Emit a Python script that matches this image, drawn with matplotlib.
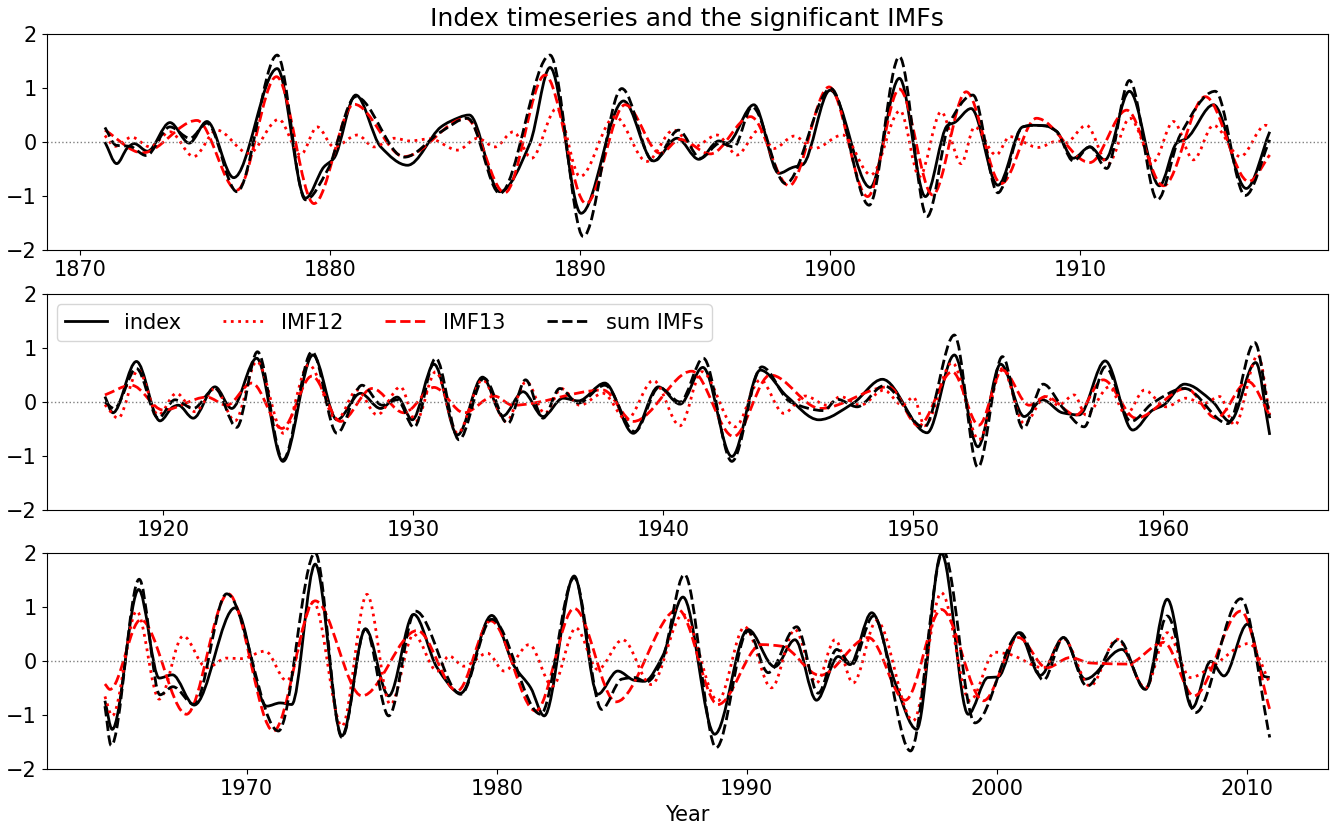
import numpy as np
import matplotlib
matplotlib.use("Agg")
import matplotlib.pyplot as plt
from matplotlib.path import Path
from matplotlib.patches import PathPatch
from matplotlib.lines import Line2D

# (year, value) at turning points / shoulders
index_pts = [
    (1871.0, 0.00), (1871.47, -0.40), (1871.9, -0.11), (1872.17, -0.03), (1872.7, -0.17),
    (1873.6, 0.36), (1874.37, -0.02), (1875.08, 0.38), (1876.15, -0.66), (1877.89, 1.36),
    (1879.02, -1.04), (1879.76, -0.46), (1880.16, -0.30), (1881.03, 0.87), (1882.03, -0.09),
    (1883.1, -0.43), (1884.44, 0.28), (1884.8, 0.38), (1885.57, 0.50), (1886.79, -0.92),
    (1888.0, -0.02), (1888.8, 1.38), (1890.04, -1.32), (1891.74, 0.76), (1892.94, -0.35),
    (1893.88, 0.07), (1894.75, -0.32), (1895.55, 0.02), (1895.88, -0.02), (1896.95, 0.69),
    (1897.95, -0.58), (1898.5, -0.47), (1898.9, -0.42), (1900.0, 0.96), (1901.6, -0.84),
    (1902.77, 1.18), (1903.81, -1.01), (1904.7, 0.31), (1904.97, 0.36), (1905.64, 0.62),
    (1906.71, -0.80), (1907.7, 0.28), (1908.1, 0.31), (1908.6, 0.30), (1909.05, 0.20),
    (1909.72, -0.30), (1910.39, -0.09), (1910.99, -0.33), (1911.97, 0.94), (1913.17, -0.81),
    (1913.86, -0.02), (1914.26, 0.07), (1915.33, 0.69), (1916.64, -0.86), (1917.58, 0.19),
    (1917.67, 0.10), (1917.99, -0.20), (1918.93, 0.75), (1919.87, -0.35), (1920.4, -0.09),
    (1920.6, -0.06), (1921.2, -0.30), (1922.07, 0.28), (1922.74, -0.12), (1923.74, 0.81),
    (1924.79, -1.10), (1925.99, 0.87), (1926.95, -0.33), (1927.89, 0.16), (1928.69, -0.12),
    (1929.36, 0.09), (1929.96, -0.33), (1930.83, 0.70), (1931.77, -0.61), (1932.77, 0.46),
    (1933.58, -0.26), (1934.39, 0.19), (1935.19, -0.27), (1935.99, 0.07), (1936.6, 0.02),
    (1937.66, 0.35), (1938.8, -0.58), (1939.8, 0.28), (1940.67, -0.04), (1941.58, 0.64),
    (1942.74, -1.01), (1943.88, 0.59), (1944.95, 0.10), (1946.22, -0.33), (1947.6, -0.02),
    (1948.76, 0.42), (1950.55, -0.57), (1951.64, 0.87), (1952.58, -0.83), (1953.49, 0.70),
    (1954.43, -0.27), (1955.16, 0.04), (1955.96, -0.20), (1956.63, -0.24), (1957.67, 0.76),
    (1958.77, -0.52), (1959.57, -0.15), (1960.0, -0.06), (1960.84, 0.33), (1961.98, 0.00),
    (1962.65, -0.36), (1963.69, 0.73), (1964.25, -0.61),
    (1964.33, -0.73), (1964.62, -1.26), (1965.68, 1.33), (1966.5, -0.31), (1967.03, -0.25),
    (1967.9, -0.81), (1969.53, 0.99), (1970.8, -0.83), (1971.34, -0.77), (1971.8, -0.80),
    (1972.74, 1.80), (1973.81, -1.38), (1974.75, 0.60), (1975.68, -0.64), (1976.68, 0.87),
    (1977.62, -0.12), (1978.56, -0.59), (1979.8, 0.85), (1980.7, -0.09), (1981.36, -0.49),
    (1981.9, -1.01), (1983.1, 1.58), (1984.04, -0.61), (1984.84, -0.18), (1985.5, -0.35),
    (1985.9, -0.37), (1986.64, 0.10), (1987.45, 1.19), (1988.72, -1.35), (1990.05, 0.59),
    (1991.12, -0.10), (1991.93, 0.40), (1992.79, -0.72), (1993.66, 0.09), (1994.13, -0.06),
    (1995.0, 0.90), (1995.94, -0.40), (1996.8, -1.26), (1997.79, 2.00), (1998.86, -0.98),
    (1999.65, -0.30), (2000.05, -0.29), (2000.87, 0.53), (2001.74, -0.26), (2002.67, 0.44),
    (2003.54, -0.33), (2005.01, 0.22), (2005.95, -0.52), (2006.82, 1.15), (2007.82, -0.86),
    (2008.56, 0.00), (2009.09, -0.27), (2010.03, 0.69), (2010.7, -0.28), (2010.92, -0.30),
]

imf12_pts = [
    (1871.0, 0.12), (1871.4, -0.08), (1872.07, 0.09), (1872.8, -0.09), (1873.6, 0.19),
    (1874.55, -0.27), (1875.48, 0.22), (1876.75, -0.21), (1877.95, 0.42), (1878.82, -0.24),
    (1879.49, 0.28), (1880.16, -0.09), (1881.1, 0.13), (1881.76, -0.09), (1882.57, 0.07),
    (1883.2, 0.02), (1884.0, 0.06), (1885.1, -0.15), (1885.9, 0.07), (1886.6, -0.09),
    (1887.33, 0.19), (1888.06, -0.30), (1889.06, 0.62), (1890.0, -0.64), (1891.4, 0.47),
    (1892.67, -0.36), (1893.74, 0.22), (1894.55, -0.09), (1895.48, 0.13), (1896.28, -0.24),
    (1897.15, 0.22), (1897.75, -0.12), (1898.56, 0.11), (1899.36, -0.12), (1900.5, 0.13),
    (1901.63, -0.61), (1902.8, 0.58), (1903.57, -0.64), (1904.44, 0.56), (1905.24, -0.40),
    (1905.78, 0.28), (1906.64, -0.24), (1907.18, 0.10), (1908.32, -0.10), (1909.1, 0.02),
    (1909.4, -0.02), (1910.25, 0.31), (1911.12, -0.40), (1911.99, 0.44), (1912.93, -0.36),
    (1913.73, 0.38), (1914.53, -0.33), (1915.33, 0.31), (1916.4, -0.27), (1917.41, 0.31),
    (1917.58, 0.28),
    (1917.67, -0.05), (1918.2, -0.30), (1919.0, 0.59), (1919.8, -0.24), (1920.53, 0.16),
    (1921.27, -0.18), (1922.07, 0.25), (1922.87, -0.35), (1923.74, 0.75), (1924.81, -0.58),
    (1925.82, 0.69), (1926.95, -0.33), (1927.75, 0.22), (1928.56, -0.24), (1929.49, 0.28),
    (1930.1, -0.36), (1930.9, 0.56), (1931.77, -0.58), (1932.77, 0.41), (1933.72, -0.36),
    (1934.52, 0.38), (1935.26, -0.21), (1935.92, 0.25), (1936.66, -0.06), (1937.59, 0.16),
    (1938.53, -0.33), (1939.6, 0.40), (1940.67, -0.44), (1941.54, 0.56), (1942.87, -0.46),
    (1943.88, 0.41), (1944.81, -0.21), (1945.68, 0.11), (1946.55, -0.06), (1947.08, 0.10),
    (1947.88, -0.06), (1948.82, 0.22), (1949.56, -0.06), (1950.0, 0.09), (1950.45, -0.44),
    (1951.55, 0.73), (1952.62, -0.70), (1953.56, 0.62), (1954.43, -0.40), (1955.29, 0.10),
    (1955.8, -0.06), (1956.43, 0.13), (1956.9, -0.24), (1957.83, 0.28), (1958.5, -0.24),
    (1959.24, 0.22), (1960.1, -0.09), (1960.9, 0.07), (1961.6, -0.03), (1962.25, 0.10),
    (1962.85, -0.43), (1963.78, 0.87), (1964.25, -0.24),
    (1964.33, -0.65), (1964.62, -1.01), (1965.6, 0.93), (1966.5, -0.70), (1967.46, 0.47),
    (1968.4, -0.12), (1969.2, 0.06), (1969.8, 0.05), (1970.74, 0.19), (1971.6, -0.36),
    (1972.67, 1.10), (1973.81, -1.20), (1974.81, 1.24), (1975.75, -0.80), (1976.68, 0.50),
    (1977.62, -0.18), (1978.09, 0.10), (1978.69, -0.09), (1979.63, 0.15), (1980.3, -0.18),
    (1981.3, 0.31), (1982.23, -0.46), (1983.17, 0.62), (1984.04, -0.15), (1985.04, 0.40),
    (1986.18, -0.43), (1987.45, 0.87), (1988.85, -0.73), (1989.92, 0.64), (1990.99, -0.49),
    (1991.93, 0.59), (1992.79, -0.40), (1993.53, 0.40), (1994.26, -0.40), (1995.2, 0.75),
    (1996.66, -1.10), (1997.79, 1.27), (1998.93, -0.73), (1999.93, 0.17), (2000.5, 0.13),
    (2001.87, -0.12), (2002.67, 0.42), (2003.74, -0.46), (2004.81, 0.41), (2005.95, -0.49),
    (2006.82, 0.53), (2007.75, -0.30), (2008.6, -0.10), (2010.09, 0.33), (2010.92, -0.40),
]

imf13_pts = [
    (1871.0, 0.22), (1872.5, -0.20), (1874.68, 0.40), (1876.28, -0.89), (1877.86, 1.21),
    (1879.36, -1.14), (1880.96, 0.70), (1882.97, -0.27), (1885.44, 0.44), (1886.99, -0.94),
    (1888.6, 1.24), (1890.24, -1.14), (1891.8, 0.69), (1893.21, -0.21), (1894.0, 0.05),
    (1895.21, -0.22), (1896.82, 0.47), (1898.36, -0.81), (1899.96, 1.02), (1901.5, -1.01),
    (1902.77, 0.98), (1904.1, -0.98), (1905.44, 0.93), (1906.84, -0.77), (1908.25, 0.44),
    (1910.39, -0.38), (1911.86, 0.59), (1913.33, -0.81), (1915.0, 0.84), (1916.74, -0.73),
    (1917.58, -0.24),
    (1917.67, 0.13), (1918.73, 0.31), (1920.0, -0.15), (1921.74, 0.09), (1922.54, -0.06),
    (1923.54, 0.35), (1924.75, -0.49), (1925.95, 0.48), (1927.09, -0.36), (1928.36, 0.25),
    (1929.63, -0.20), (1930.83, 0.27), (1932.03, -0.20), (1933.24, 0.11), (1933.98, -0.06),
    (1937.59, 0.22), (1938.8, -0.36), (1941.14, 0.57), (1942.81, -0.64), (1944.28, 0.50),
    (1946.28, -0.12), (1949.02, 0.28), (1950.21, -0.44), (1951.55, 0.56), (1952.62, -0.43),
    (1953.56, 0.59), (1954.63, -0.06), (1955.29, 0.10), (1956.5, -0.24), (1957.59, 0.41),
    (1958.9, -0.30), (1960.91, 0.25), (1962.11, -0.30), (1963.38, 0.38), (1964.25, -0.24),
    (1964.33, -0.42), (1964.53, -0.52), (1965.76, 0.77), (1967.59, -0.98), (1969.26, 1.25),
    (1971.07, -1.29), (1972.74, 1.12), (1974.61, -0.64), (1976.82, 0.57), (1978.42, -0.55),
    (1979.76, 0.75), (1981.56, -0.92), (1983.1, 0.98), (1984.77, -0.75), (1987.25, 0.96),
    (1988.85, -0.80), (1990.59, 0.31), (1991.4, 0.28), (1992.93, -0.26), (1994.87, 0.44),
    (1996.34, -0.72), (1997.79, 0.96), (1999.47, -0.73), (2000.87, 0.44), (2002.0, -0.12),
    (2002.94, 0.07), (2003.74, -0.03), (2005.2, -0.05), (2006.68, 0.35), (2007.89, -0.64),
    (2009.76, 0.93), (2010.92, -0.89),
]

sum_pts = [
    (1871.0, 0.27), (1871.45, -0.06), (1872.0, -0.08), (1872.65, -0.25), (1873.6, 0.28),
    (1874.4, 0.07), (1875.08, 0.35), (1876.28, -0.92), (1877.89, 1.61), (1879.02, -1.07),
    (1879.9, -0.52), (1881.03, 0.84), (1882.97, -0.28), (1884.44, 0.19), (1885.5, 0.44),
    (1886.79, -0.95), (1888.8, 1.61), (1890.13, -1.75), (1891.67, 0.99), (1892.94, -0.36),
    (1893.94, 0.22), (1894.81, -0.30), (1895.6, -0.02), (1896.15, -0.09), (1896.88, 0.65),
    (1898.22, -0.77), (1900.03, 0.99), (1901.56, -1.17), (1902.77, 1.58), (1903.88, -1.38),
    (1904.77, 0.35), (1905.71, 0.87), (1906.71, -0.94), (1907.7, 0.28), (1908.1, 0.31),
    (1908.6, 0.30), (1909.05, 0.20), (1909.72, -0.35), (1910.39, -0.09), (1911.06, -0.49),
    (1911.97, 1.14), (1913.09, -1.07), (1914.0, 0.13), (1915.4, 0.94), (1916.6, -0.99),
    (1917.58, 0.04),
    (1917.67, 0.00), (1918.04, -0.12), (1918.93, 0.62), (1919.8, -0.30), (1920.47, 0.04),
    (1921.2, -0.12), (1922.07, 0.25), (1922.94, -0.47), (1923.77, 0.93), (1924.79, -1.07),
    (1925.95, 0.93), (1926.95, -0.58), (1927.95, 0.31), (1928.76, -0.06), (1929.36, 0.04),
    (1930.03, -0.47), (1930.9, 0.81), (1931.83, -0.70), (1932.83, 0.44), (1933.78, -0.40),
    (1934.49, 0.41), (1935.19, -0.30), (1935.86, 0.25), (1936.6, -0.02), (1937.66, 0.31),
    (1938.86, -0.55), (1939.83, 0.27), (1940.67, 0.00), (1941.6, 0.81), (1942.74, -1.10),
    (1943.94, 0.65), (1945.08, 0.00), (1946.42, -0.16), (1946.95, 0.05), (1947.75, -0.09),
    (1948.82, 0.30), (1950.43, -0.47), (1951.64, 1.24), (1952.58, -1.21), (1953.56, 0.84),
    (1954.39, -0.49), (1955.19, 0.33), (1956.0, -0.12), (1956.83, -0.46), (1957.67, 0.65),
    (1958.7, -0.36), (1959.57, -0.02), (1960.84, 0.25), (1962.58, -0.40), (1963.65, 1.10),
    (1964.25, -0.30),
    (1964.33, -0.83), (1964.58, -1.56), (1965.7, 1.52), (1966.53, -0.62), (1967.05, -0.47),
    (1967.9, -0.80), (1969.2, 1.25), (1971.27, -1.29), (1972.74, 2.01), (1973.81, -1.41),
    (1974.75, 0.60), (1975.68, -1.01), (1976.75, 0.93), (1978.56, -0.61), (1979.8, 0.78),
    (1981.76, -0.98), (1983.1, 1.55), (1984.2, -0.89), (1985.0, -0.33), (1985.5, -0.30),
    (1986.0, -0.38), (1986.6, 0.00), (1987.51, 1.61), (1988.78, -1.60), (1990.05, 0.56),
    (1990.86, -0.21), (1992.0, 0.64), (1992.86, -0.59), (1993.6, 0.22), (1994.2, -0.06),
    (1995.07, 0.84), (1996.55, -1.66), (1997.86, 2.04), (1999.13, -1.14), (2000.94, 0.53),
    (2001.87, -0.35), (2002.67, 0.44), (2003.61, -0.46), (2004.88, 0.40), (2005.95, -0.52),
    (2006.82, 0.84), (2007.95, -0.95), (2009.76, 1.16), (2010.92, -1.41),
]

# monthly record Jan 1871 - Dec 2010 cut into three equal chunks
panel_spans = [(1871.0, 1917.58), (1917.67, 1964.25), (1964.33, 2010.92)]
yticks = [-2, -1, 0, 1, 2]


def smooth_path(pts):
    """Cubic Bezier through the read points (monotone Hermite tangents)."""
    t = np.array([p[0] for p in pts])
    v = np.array([p[1] for p in pts])
    d = np.diff(v) / np.diff(t)
    m = np.zeros_like(v)
    for i in range(1, len(v) - 1):
        if d[i - 1] * d[i] > 0:
            w1 = 2 * (t[i + 1] - t[i]) + (t[i] - t[i - 1])
            w2 = (t[i + 1] - t[i]) + 2 * (t[i] - t[i - 1])
            m[i] = (w1 + w2) / (w1 / d[i - 1] + w2 / d[i])
    m[0], m[-1] = d[0], d[-1]
    verts = [(t[0], v[0])]
    codes = [Path.MOVETO]
    for i in range(len(t) - 1):
        h = (t[i + 1] - t[i]) / 3
        verts += [(t[i] + h, v[i] + m[i] * h),
                  (t[i + 1] - h, v[i + 1] - m[i + 1] * h),
                  (t[i + 1], v[i + 1])]
        codes += [Path.CURVE4] * 3
    return Path(verts, codes)


series = [
    (index_pts, "k", "-", "index"),
    (imf12_pts, "r", ":", "IMF12"),
    (imf13_pts, "r", "--", "IMF13"),
    (sum_pts, "k", "--", "sum IMFs"),
]

plt.rcParams["font.size"] = 15
fig = plt.figure(figsize=(13.38, 8.26), dpi=100)
boxes = [(0.0349, 0.6973, 0.9576, 0.2615),
         (0.0349, 0.3826, 0.9576, 0.2615),
         (0.0349, 0.0686, 0.9576, 0.2615)]
axes = [fig.add_axes(b) for b in boxes]

for ax, (lo, hi) in zip(axes, panel_spans):
    ax.axhline(0, color="gray", ls=":", lw=1)
    for pts, col, ls, lab in series:
        part = [p for p in pts if lo - 0.01 <= p[0] <= hi + 0.01]
        ax.add_patch(PathPatch(smooth_path(part), fill=False, edgecolor=col,
                               lw=2, linestyle=ls, capstyle="butt",
                               joinstyle="round"))
    pad = 0.05 * (hi - lo)
    ax.set_xlim(lo - pad, hi + pad)
    ax.set_ylim(-2, 2)
    ax.set_yticks(yticks)

axes[0].set_title("Index timeseries and the significant IMFs", fontsize=18)
axes[2].set_xlabel("Year")
handles = [Line2D([], [], color=c, ls=ls, lw=2) for _, c, ls, _ in series]
axes[1].legend(handles, [s[3] for s in series], loc="upper left", ncol=4,
               fontsize=15)

fig.savefig("out.png", dpi=100)
